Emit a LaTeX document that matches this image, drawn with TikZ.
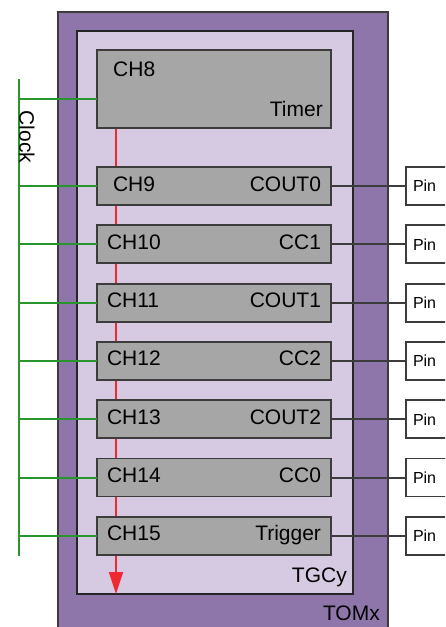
\documentclass[tikz,border=0pt]{standalone}
\usepackage{fontspec}
\setmainfont{Liberation Sans}
\usepackage{tikz}
\usetikzlibrary{arrows.meta, positioning, calc}
\definecolor{tompurple}{RGB}{142, 118, 171}
\definecolor{tgclilac}{RGB}{213, 202, 225}
\definecolor{chgray}{RGB}{166, 166, 166}
\definecolor{edgegray}{RGB}{60, 60, 60}
\definecolor{clkgreen}{RGB}{40, 150, 45}
\definecolor{sigred}{RGB}{240, 40, 50}
\newcommand{\chtext}[2]{\makebox[214pt]{#1\hfill #2}}

\begin{document}
\begin{tikzpicture}[x=1pt, y=-1pt,
        font=\fontsize{21}{25}\selectfont,
        chbox/.style={draw=edgegray, line width=1.8pt, fill=chgray, outer sep=0pt, minimum width=234pt, minimum height=38pt, inner xsep=10pt, inner ysep=0pt, text height=15pt, text depth=5pt},
        pinbox/.style={draw=edgegray, line width=1.8pt, fill=white, outer sep=0pt, minimum height=38pt, inner xsep=7pt, inner ysep=0pt, font=\fontsize{16}{19}\selectfont},
        clkline/.style={clkgreen, line width=2pt},
        pinline/.style={edgegray, line width=2pt},
        tag/.style={inner sep=0pt},
        node distance=20.3pt]
    \useasboundingbox (0,0) rectangle (445,627);
    \clip (0,0) rectangle (445,627);

    % --- TOMx i TGCy ---
    \node[draw=edgegray, line width=1.8pt, fill=tompurple, outer sep=0pt, minimum width=330pt, minimum height=640pt, anchor=north west] (tom) at (58,12) {};
    \node[draw=black!85, line width=1.8pt, fill=tgclilac, outer sep=0pt, minimum width=276pt, minimum height=563pt, anchor=north west] (tgc) at (77,31) {};

    % Czerwona strzalka (trigger w dol)
    \coordinate (sigtop) at (116,128);
    \coordinate (sigend) at (sigtop |- tgc.south);
    \draw[-{Triangle[length=22pt, width=14pt]}, sigred, line width=1.8pt] (sigtop) -- (sigend);

    % --- Kanaly ---
    \node[chbox, minimum height=78pt, anchor=north west] (ch8) at (97,50) {};
    \node[chbox, anchor=north west] (ch9) at (97,167) {\chtext{\hspace*{6pt}CH9}{COUT0}};
    \node[chbox, below=of ch9] (ch10) {\chtext{CH10}{CC1}};
    \node[chbox, below=of ch10] (ch11) {\chtext{CH11}{COUT1}};
    \node[chbox, below=of ch11] (ch12) {\chtext{CH12}{CC2}};
    \node[chbox, below=of ch12] (ch13) {\chtext{CH13}{COUT2}};
    \node[chbox, below=of ch13] (ch14) {\chtext{CH14}{CC0}};
    \node[chbox, below=of ch14] (ch15) {\chtext{CH15}{Trigger}};

    % Opisy
    \node[tag, anchor=base west] (ch8name) at ($(ch8.north west)+(16,26)$) {CH8};
    \node[tag, anchor=base east] (ch8role) at ($(ch8.south east)+(-8,-12)$) {Timer};
    \node[tag, anchor=base east] (tgcname) at ($(tgc.south east)+(-6,-12)$) {TGCy};
    \node[tag, anchor=base east] (tomname) at ($(tom.north east)+(-8,608)$) {TOMx};

    % --- Piny ---
    \node[pinbox, right=75pt of ch9] (pin9) {\makebox[34pt][l]{Pin}};
    \node[pinbox, right=75pt of ch10] (pin10) {\makebox[34pt][l]{Pin}};
    \node[pinbox, right=75pt of ch11] (pin11) {\makebox[34pt][l]{Pin}};
    \node[pinbox, right=75pt of ch12] (pin12) {\makebox[34pt][l]{Pin}};
    \node[pinbox, right=75pt of ch13] (pin13) {\makebox[34pt][l]{Pin}};
    \node[pinbox, right=75pt of ch14] (pin14) {\makebox[34pt][l]{Pin}};
    \node[pinbox, right=75pt of ch15] (pin15) {\makebox[34pt][l]{Pin}};

    \draw[pinline] (ch9.east) -- (pin9.west);
    \draw[pinline] (ch10.east) -- (pin10.west);
    \draw[pinline] (ch11.east) -- (pin11.west);
    \draw[pinline] (ch12.east) -- (pin12.west);
    \draw[pinline] (ch13.east) -- (pin13.west);
    \draw[pinline] (ch14.east) -- (pin14.west);
    \draw[pinline] (ch15.east) -- (pin15.west);

    % --- Zegar ---
    \coordinate (clktop) at (19,79);
    \coordinate (clkbot) at (19,556);
    \coordinate (ch8clk) at ($(ch8.north west)+(0,49)$);
    \draw[clkline] (clktop) -- (clkbot);
    \node[rotate=-90] (clk) at (27,137) {Clock};

    \draw[clkline] (clktop |- ch8clk) -- (ch8clk);
    \draw[clkline] (clktop |- ch9.west) -- (ch9.west);
    \draw[clkline] (clktop |- ch10.west) -- (ch10.west);
    \draw[clkline] (clktop |- ch11.west) -- (ch11.west);
    \draw[clkline] (clktop |- ch12.west) -- (ch12.west);
    \draw[clkline] (clktop |- ch13.west) -- (ch13.west);
    \draw[clkline] (clktop |- ch14.west) -- (ch14.west);
    \draw[clkline] (clktop |- ch15.west) -- (ch15.west);
\end{tikzpicture}
\end{document}
